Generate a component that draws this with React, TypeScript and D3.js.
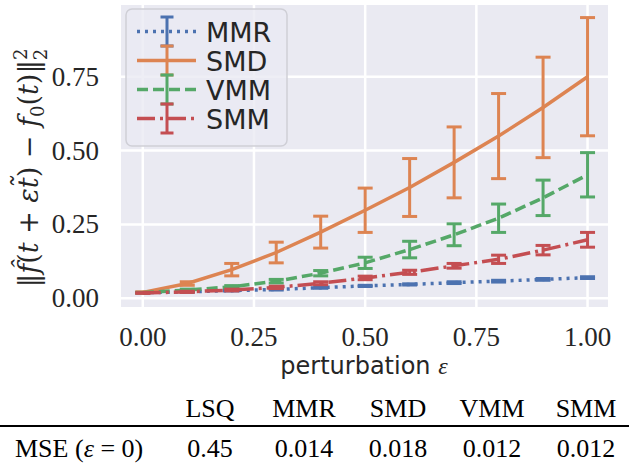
import React from 'react';
import * as d3 from 'd3';

const width = 629;
const height = 467;

const eps = [0, 0.1, 0.2, 0.3, 0.4, 0.5, 0.6, 0.7, 0.8, 0.9, 1.0];

const mmrMean = [0.019, 0.022, 0.026, 0.030, 0.036, 0.042, 0.047, 0.053, 0.058, 0.064, 0.070];
const mmrErr = [0.001, 0.001, 0.001, 0.002, 0.002, 0.002, 0.002, 0.003, 0.003, 0.003, 0.003];
const smdMean = [0.020, 0.050, 0.097, 0.155, 0.224, 0.298, 0.375, 0.460, 0.549, 0.646, 0.750];
const smdErr = [0.002, 0.006, 0.021, 0.035, 0.054, 0.075, 0.098, 0.120, 0.144, 0.170, 0.200];
const vmmMean = [0.019, 0.028, 0.039, 0.058, 0.085, 0.120, 0.165, 0.215, 0.271, 0.340, 0.418];
const vmmErr = [0.001, 0.003, 0.004, 0.006, 0.009, 0.019, 0.028, 0.037, 0.048, 0.060, 0.075];
const smmMean = [0.018, 0.022, 0.028, 0.037, 0.051, 0.069, 0.088, 0.110, 0.132, 0.163, 0.198];
const smmErr = [0.001, 0.002, 0.003, 0.004, 0.005, 0.006, 0.007, 0.008, 0.014, 0.016, 0.025];

const seriesNames = ['MMR', 'SMD', 'VMM', 'SMM'];
const seriesColors = ['#4C72B0', '#DD8452', '#55A868', '#C44E52'];
const seriesDash = ['3,5', null, '11,5', '18,5,3,5'];

const xTicks = [0, 0.25, 0.5, 0.75, 1.0];
const yTicks = [0, 0.25, 0.5, 0.75];

const tableHeader = ['LSQ', 'MMR', 'SMD', 'VMM', 'SMM'];
const mseValues = ['0.45', '0.014', '0.018', '0.012', '0.012'];

const plot = { left: 121, right: 608, top: 5, bottom: 307 };

const serif = '"Liberation Serif", "DejaVu Serif", serif';
const mathSerif = '"DejaVu Serif", serif';
const sans = '"DejaVu Sans", sans-serif';

const App = () => {
  const x = d3.scaleLinear().domain([-0.049, 1.046]).range([plot.left, plot.right]);
  const y = d3.scaleLinear().domain([-0.0294, 0.9926]).range([plot.bottom, plot.top]);

  const means = [mmrMean, smdMean, vmmMean, smmMean];
  const errs = [mmrErr, smdErr, vmmErr, smmErr];

  const line = d3.line<number>()
    .x((d, i) => x(eps[i]))
    .y(d => y(d));

  const colX = d3.scalePoint<string>().domain(tableHeader).range([210, 586]);

  return (
    <svg width={width} height={height} style={{ position: 'absolute', left: 0, top: 0 }}>
      <rect x={0} y={0} width={width} height={height} fill="#fff" />
      <rect
        x={plot.left}
        y={plot.top}
        width={plot.right - plot.left}
        height={plot.bottom - plot.top}
        fill="#EAEAF2"
      />
      {xTicks.map(t => (
        <line key={'gx' + t} x1={x(t)} x2={x(t)} y1={plot.top} y2={plot.bottom} stroke="#fff" strokeWidth={2.5} />
      ))}
      {yTicks.map(t => (
        <line key={'gy' + t} x1={plot.left} x2={plot.right} y1={y(t)} y2={y(t)} stroke="#fff" strokeWidth={2.5} />
      ))}

      {means.map((m, s) => (
        <g key={seriesNames[s]}>
          <path
            d={line(m) || ''}
            fill="none"
            stroke={seriesColors[s]}
            strokeWidth={3.5}
            strokeDasharray={seriesDash[s] || undefined}
          />
          {m.map((v, i) => {
            const cx = x(eps[i]);
            const y0 = y(v - errs[s][i]);
            const y1 = y(v + errs[s][i]);
            return (
              <g key={i} stroke={seriesColors[s]} strokeWidth={3}>
                <line x1={cx} x2={cx} y1={y0} y2={y1} />
                <line x1={cx - 7.5} x2={cx + 7.5} y1={y0} y2={y0} />
                <line x1={cx - 7.5} x2={cx + 7.5} y1={y1} y2={y1} />
              </g>
            );
          })}
        </g>
      ))}

      {/* legend */}
      <rect x={126} y={9} width={161} height={137} rx={6} fill="#EAEAF2" fillOpacity={0.8} stroke="#cfcfd6" strokeWidth={1.5} />
      {seriesNames.map((name, s) => {
        const ly = 31.5 + s * 29;
        return (
          <g key={'leg' + name}>
            <line x1={137} x2={196} y1={ly} y2={ly} stroke={seriesColors[s]} strokeWidth={3.5} strokeDasharray={seriesDash[s] || undefined} />
            <g stroke={seriesColors[s]} strokeWidth={3}>
              <line x1={167} x2={167} y1={ly - 14.5} y2={ly + 14.5} />
              <line x1={160.5} x2={173.5} y1={ly - 14.5} y2={ly - 14.5} />
              <line x1={160.5} x2={173.5} y1={ly + 14.5} y2={ly + 14.5} />
            </g>
            <text x={206} y={ly + 10} fontFamily={sans} fontSize={27} fill="#262626">{name}</text>
          </g>
        );
      })}

      {/* tick labels */}
      {yTicks.map(t => (
        <text key={'ty' + t} x={99} y={y(t) + 9} textAnchor="end" fontFamily={serif} fontSize={27} fill="#262626">
          {d3.format('.2f')(t)}
        </text>
      ))}
      {xTicks.map(t => (
        <text key={'tx' + t} x={x(t)} y={346} textAnchor="middle" fontFamily={serif} fontSize={27} fill="#262626">
          {d3.format('.2f')(t)}
        </text>
      ))}

      {/* axis labels */}
      <text x={364} y={374} textAnchor="middle" fontFamily={sans} fontSize={24} fill="#262626">
        perturbation <tspan fontFamily={serif} fontStyle="italic">ε</tspan>
      </text>
      <text transform="translate(38,168) rotate(-90)" textAnchor="middle" fontFamily={mathSerif} fontSize={27} fill="#262626">
        ‖<tspan fontStyle="italic">f̂</tspan>(<tspan fontStyle="italic">t</tspan> + <tspan fontStyle="italic">εt̃</tspan>) − <tspan fontStyle="italic">f</tspan><tspan fontSize={18} dy={6}>0</tspan><tspan dy={-6}>(</tspan><tspan fontStyle="italic">t</tspan>)‖<tspan fontSize={18} dy={-11}>2</tspan><tspan fontSize={18} dx={-11.5} dy={20}>2</tspan>
      </text>

      {/* table */}
      {tableHeader.map(h => (
        <text key={'h' + h} x={colX(h)} y={416.5} textAnchor="middle" fontFamily={serif} fontSize={26} fill="#000">{h}</text>
      ))}
      <line x1={0} x2={width} y1={426} y2={426} stroke="#000" strokeWidth={2} />
      <text x={15} y={457} fontFamily={serif} fontSize={26} fill="#000">
        MSE (<tspan fontStyle="italic">ε</tspan> = 0)
      </text>
      {mseValues.map((v, i) => (
        <text key={'v' + i} x={colX(tableHeader[i])} y={457} textAnchor="middle" fontFamily={serif} fontSize={26} fill="#000">{v}</text>
      ))}
    </svg>
  );
};

export default App;
